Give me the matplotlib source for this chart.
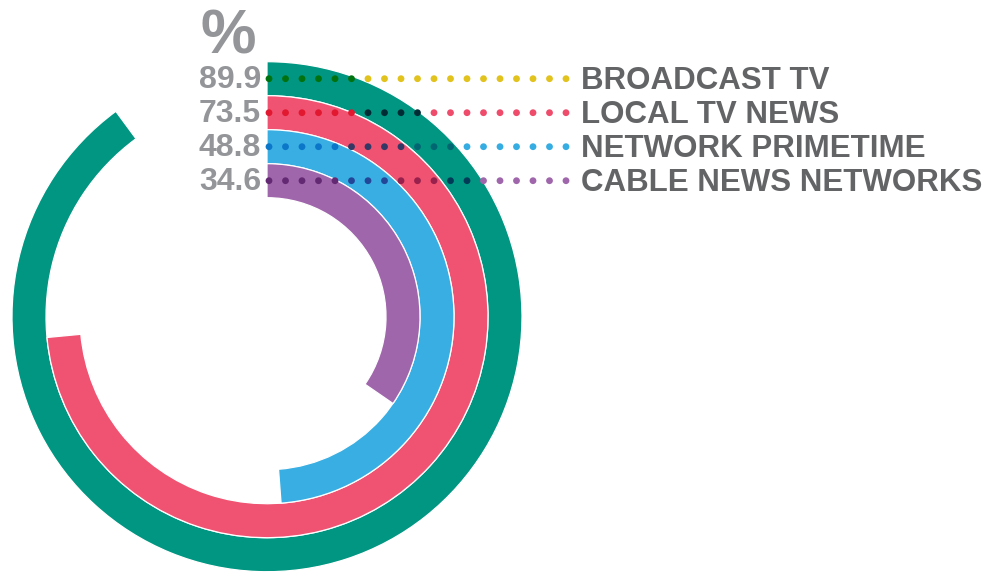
"""
Radial bar chart: share of respondents per TV news source (%).
"""

import numpy as np
import matplotlib.pyplot as plt
from matplotlib.patches import Wedge
from matplotlib.colors import to_rgb

# Data
labels = ["BROADCAST TV", "LOCAL TV NEWS", "NETWORK PRIMETIME", "CABLE NEWS NETWORKS"]
values = [89.9, 73.5, 48.8, 34.6]
ring_colors = ["#009681", "#f05271", "#38aee3", "#a066ab"]
dot_colors = ["#e2c21d", "#ef4b6b", "#36ade2", "#a066ac"]

# Layout (pixels, y measured from the bottom)
W, H = 1006, 573
CX, CY = 267, H - 316.7
R_OUTER = 255
RING_W = 34
NUM_GRAY = "#939598"
LABEL_GRAY = "#636466"
FONT = "Liberation Sans"

fig = plt.figure(figsize=(W / 100, H / 100), dpi=100)
ax = fig.add_axes([0, 0, 1, 1])
ax.set_xlim(0, W)
ax.set_ylim(0, H)
ax.set_aspect("equal")
ax.axis("off")

rings = []
for i, (v, c) in enumerate(zip(values, ring_colors)):
    r_out = R_OUTER - i * RING_W
    sweep = 360 * v / 100
    ax.add_patch(Wedge((CX, CY), r_out, 90 - sweep, 90, width=RING_W,
                       facecolor=c, edgecolor="white", linewidth=0.9))
    rings.append((r_out - RING_W, r_out, sweep, c))


def ring_under(x, y):
    """Return the ring colour lying under point (x, y), if any."""
    r = np.hypot(x - CX, y - CY)
    ang = (90 - np.degrees(np.arctan2(y - CY, x - CX))) % 360
    for r_in, r_out, sweep, c in rings:
        if r_in <= r <= r_out and ang <= sweep:
            return c
    return None


# dotted leader lines, darkened (multiply) where they cross a ring
dot_x = np.linspace(269, 566, 19)
for i, (lab, v, dc) in enumerate(zip(labels, values, dot_colors)):
    y = CY + R_OUTER - RING_W / 2 - i * RING_W
    base = np.array(to_rgb(dc))
    cols = []
    for x in dot_x:
        under = ring_under(x, y)
        cols.append(base * np.array(to_rgb(under)) if under else base)
    ax.scatter(dot_x, np.full_like(dot_x, y), s=24, c=cols, linewidths=0, zorder=3)

    ax.text(261, y - 1, f"{v:.1f}", ha="right", va="center", fontsize=23,
            fontweight="bold", color=NUM_GRAY, family=FONT)
    ax.text(581, y - 2, lab, ha="left", va="center", fontsize=22.5,
            fontweight="bold", color=LABEL_GRAY, family=FONT)

ax.text(228, H - 53, "%", ha="center", va="baseline", fontsize=45,
        fontweight="bold", color=NUM_GRAY, family=FONT)

fig.savefig("out.png", dpi=100)
